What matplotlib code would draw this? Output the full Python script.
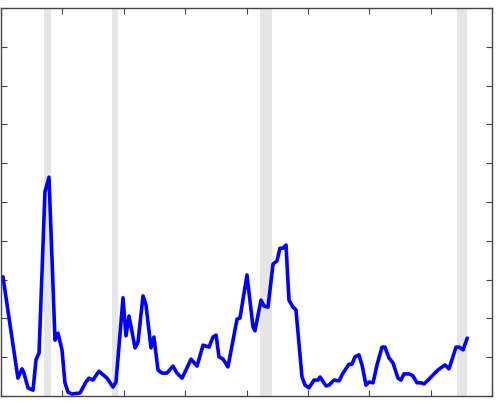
import matplotlib
matplotlib.use("Agg")
import matplotlib.pyplot as plt
import numpy as np

# Time (decimal years) and series values
years = [1975.16, 1976.38, 1976.71, 1976.87, 1977.20, 1977.61, 1977.85, 1978.10,
         1978.58, 1978.91, 1979.40, 1979.64, 1979.97, 1980.21, 1980.46, 1980.78,
         1981.44, 1981.92, 1982.17, 1982.49, 1982.98, 1983.64, 1984.12, 1984.37,
         1984.94, 1985.18, 1985.43, 1985.92, 1986.16, 1986.57, 1986.81, 1987.22,
         1987.46, 1987.79, 1988.12, 1988.52, 1989.01, 1989.34, 1989.75, 1990.07,
         1990.48, 1990.97, 1991.46, 1991.95, 1992.27, 1992.52, 1992.76, 1993.09,
         1993.49, 1994.23, 1994.47, 1995.04, 1995.53, 1995.69, 1996.18, 1996.43,
         1996.75, 1997.16, 1997.48, 1997.73, 1997.97, 1998.22, 1998.46, 1998.79,
         1999.03, 1999.52, 1999.77, 2000.09, 2000.50, 2000.83, 2000.99, 2001.48,
         2001.72, 2002.13, 2002.54, 2002.86, 2003.35, 2003.59, 2003.84, 2004.16,
         2004.41, 2004.74, 2004.98, 2005.31, 2005.63, 2006.04, 2006.28, 2006.61,
         2006.94, 2007.34, 2007.59, 2007.83, 2008.24, 2008.56, 2008.89, 2009.22,
         2009.46, 2009.79, 2010.19, 2010.60, 2011.17, 2011.50, 2012.07, 2012.32,
         2012.65, 2012.98]
values = [3.07, 0.46, 0.70, 0.59, 0.21, 0.15, 0.93, 1.11,
          5.26, 5.64, 1.44, 1.62, 1.19, 0.34, 0.10, 0.05,
          0.08, 0.36, 0.46, 0.41, 0.64, 0.46, 0.23, 0.36,
          2.53, 1.55, 2.06, 1.24, 1.39, 2.58, 2.35, 1.24,
          1.52, 0.67, 0.59, 0.59, 0.77, 0.59, 0.46, 0.67,
          0.95, 0.77, 1.31, 1.26, 1.52, 1.57, 1.01, 0.95,
          0.75, 1.98, 2.01, 3.12, 1.78, 1.68, 2.47, 2.32,
          2.29, 3.40, 3.48, 3.81, 3.81, 3.89, 2.47, 2.29,
          2.22, 0.49, 0.28, 0.21, 0.41, 0.41, 0.49, 0.26,
          0.28, 0.41, 0.39, 0.59, 0.82, 0.82, 1.01, 1.06,
          0.80, 0.28, 0.36, 0.34, 0.80, 1.26, 1.26, 0.98,
          0.85, 0.46, 0.41, 0.57, 0.57, 0.52, 0.34, 0.34,
          0.31, 0.41, 0.54, 0.67, 0.80, 0.70, 1.26, 1.26,
          1.19, 1.49]

# Shaded periods (start, end)
shade_start = [1978.50, 1984.04, 1996.10, 2012.15]
shade_end = [1979.07, 1984.53, 1997.08, 2012.96]

x_ticks = [1975, 1980, 1985, 1990, 1995, 2000, 2005, 2010, 2015]
y_ticks = list(range(0, 11))

fig = plt.figure(figsize=(4.96, 4.05), dpi=100)
ax = fig.add_axes([1/496, 9/405, 491/496, 388/405])

for s, e in zip(shade_start, shade_end):
    ax.axvspan(s, e, color="#e6e6e6", lw=0, zorder=0)

ax.plot(years, values, color="#0000ff", lw=2.6, zorder=2,
        solid_joinstyle="round", solid_capstyle="round")

ax.set_xlim(1975, 2015)
ax.set_ylim(0, 10)
ax.set_xticks(x_ticks)
ax.set_yticks(y_ticks)
ax.set_xticklabels([])
ax.set_yticklabels([])
ax.tick_params(direction="in", length=4, width=0.8, color="#444444",
               top=True, right=True, bottom=True, left=True)
for sp in ax.spines.values():
    sp.set_color("#444444")
    sp.set_linewidth(1.0)

fig.savefig("out.png", dpi=100)
